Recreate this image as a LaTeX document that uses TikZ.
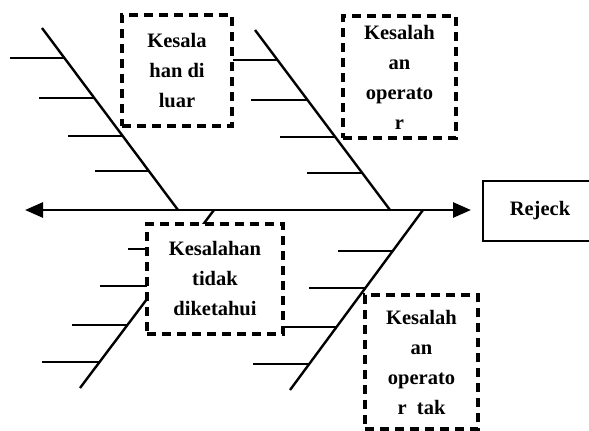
\documentclass[tikz,border=0pt]{standalone}
\usepackage{fontspec}
\setmainfont{Liberation Serif}
\usetikzlibrary{arrows.meta}

\tikzset{
  bone/.style={line width=2.4pt},
  spine/.style={line width=2.8pt, {Triangle[length=18pt,width=15pt]}-{Triangle[length=18pt,width=15pt]}},
  cause/.style={draw, line width=3.2pt, dash pattern=on 9pt off 6pt, fill=white,
    align=center, inner sep=0pt, font=\bfseries\fontsize{20.5}{30}\selectfont},
  effect/.style={draw, line width=2pt, inner sep=0pt, font=\bfseries\fontsize{20.5}{24}\selectfont}
}

\begin{document}
\begin{tikzpicture}[x=1pt, y=-1pt]
        \clip (0,0) rectangle (589,431);

        % spine
        \coordinate (tail) at (25,210);
        \coordinate (head) at (471,210);
        \draw[spine] (tail) -- (head);

        % bones
        \coordinate (tlA) at (42,28);   \coordinate (tlB) at (178,210);
        \coordinate (trA) at (255,30);  \coordinate (trB) at (390,210);
        \coordinate (blA) at (80,388);  \coordinate (blB) at (214,210);
        \coordinate (brA) at (290,390); \coordinate (brB) at (423,210);
        \draw[bone] (tlA) -- (tlB);
        \draw[bone] (trA) -- (trB);
        \draw[bone] (blA) -- (blB);
        \draw[bone] (brA) -- (brB);

        % small branches
        \foreach \a/\b/\y in {10/64.4/58, 39/94.3/98, 68/122.7/136, 95/148.8/171,
                              233/277.5/60, 251/307.5/100, 280/335/137, 307/362/173,
                              128/184.6/249, 100/156.8/286, 72/127.4/325, 42/99.6/362,
                              338/392.7/251, 309/365.4/288, 283/336.5/327, 253/309.2/364}
          \draw[bone] (\a,\y) -- (\b,\y);

        % causes
        \node[cause, minimum width=110pt, minimum height=111pt] (outside) at (177,70.5)
          {Kesala\\han di\\luar};
        \node[cause, minimum width=113pt, minimum height=122pt] (operator) at (399.5,77)
          {Kesalah\\an\\operato\\r};
        \node[cause, minimum width=136pt, minimum height=110pt] (unknown) at (215,279)
          {Kesalahan\\tidak\\diketahui};
        \node[cause, minimum width=113pt, minimum height=134pt] (operatortak) at (421.5,362)
          {Kesalah\\an\\operato\\r\ \ tak};

        % effect
        \node[effect, minimum width=114pt, minimum height=60pt] (reject) at (540,211) {Rejeck};
\end{tikzpicture}
\end{document}
